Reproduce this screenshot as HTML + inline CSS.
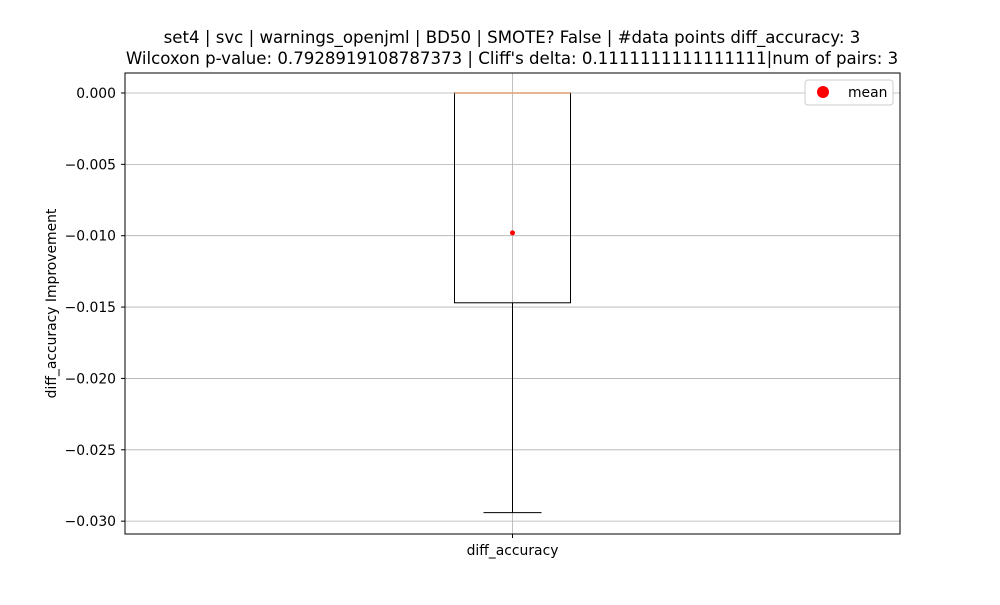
<!DOCTYPE html>
<html><head><meta charset="utf-8"><style>
body{margin:0;background:#fff;font-family:"Liberation Sans","DejaVu Sans",sans-serif}
svg text{font-family:"DejaVu Sans","Liberation Sans",sans-serif}
</style></head><body>
<svg id="c" width="1000" height="600"></svg>
<script>
const categories=["diff_accuracy"];
const q1Vals=[-0.0147];
const q3Vals=[0.0];
const medianVals=[0.0];
const whiskerLowVals=[-0.0294];
const whiskerHighVals=[0.0];
const meanVals=[-0.0098];
const yTicks=[0,-0.005,-0.01,-0.015,-0.02,-0.025,-0.03];
const yTickLabels=["0.000","\u22120.005","\u22120.010","\u22120.015","\u22120.020","\u22120.025","\u22120.030"];

const L=125,R=900,T=73,B=534,yMax=0.0014,yMin=-0.0309;
const y=v=>T+(yMax-v)/(yMax-yMin)*(B-T);
const x=i=>L+(R-L)*(i+0.5)/categories.length;
const s=document.getElementById('c');const NS="http://www.w3.org/2000/svg";
function el(t,a,txt){const e=document.createElementNS(NS,t);for(const k in a)e.setAttribute(k,a[k]);if(txt!=null)e.textContent=txt;s.appendChild(e);return e;}
let e;
e=el('text',{x:512,y:43,'text-anchor':'middle','font-size':16.6},"set4 | svc | warnings_openjml | BD50 | SMOTE? False | #data points diff_accuracy: 3");


e=el('text',{x:512,y:64,'text-anchor':'middle','font-size':16.6},"Wilcoxon p-value: 0.7928919108787373 | Cliff's delta: 0.1111111111111111|num of pairs: 3");


yTicks.forEach((v,i)=>{
 e=el('line',{x1:L,x2:R,y1:y(v),y2:y(v),stroke:'#b0b0b0','stroke-width':0.8});
 
 
 el('line',{x1:L-4,x2:L,y1:y(v),y2:y(v),stroke:'#000'});
 e=el('text',{x:L-9,y:y(v)+5,'text-anchor':'end','font-size':13.9},yTickLabels[i]);
 
 
});
categories.forEach((c,i)=>{
 const cx=x(i),bw=116,cw=58;
 e=el('line',{x1:cx,x2:cx,y1:T,y2:B,stroke:'#b0b0b0','stroke-width':0.8});
 
 
 el('line',{x1:cx,x2:cx,y1:B,y2:B+4,stroke:'#000'});
 e=el('text',{x:cx,y:555,'text-anchor':'middle','font-size':13.9},c);
 
 
 el('line',{x1:cx,x2:cx,y1:y(q1Vals[i]),y2:y(whiskerLowVals[i]),stroke:'#000'});
 el('line',{x1:cx,x2:cx,y1:y(q3Vals[i]),y2:y(whiskerHighVals[i]),stroke:'#000'});
 e=el('line',{x1:cx-cw/2,x2:cx+cw/2,y1:y(whiskerLowVals[i]),y2:y(whiskerLowVals[i]),stroke:'#000'});
 
 
 el('line',{x1:cx-cw/2,x2:cx+cw/2,y1:y(whiskerHighVals[i]),y2:y(whiskerHighVals[i]),stroke:'#000'});
 e=el('rect',{x:cx-bw/2,y:y(q3Vals[i]),width:bw,height:y(q1Vals[i])-y(q3Vals[i]),fill:'none',stroke:'#000'});
 
 
 e=el('line',{x1:cx-bw/2,x2:cx+bw/2,y1:y(medianVals[i]),y2:y(medianVals[i]),stroke:'#e0a070','stroke-width':1.5});
 
 
 e=el('circle',{cx:cx,cy:y(meanVals[i]),r:2.5,fill:'red'});
 
 
});
e=el('rect',{x:L,y:T,width:R-L,height:B-T,fill:'none',stroke:'#000'});


e=el('text',{x:0,y:0,'text-anchor':'middle','font-size':13.9,transform:`translate(56,${(T+B)/2}) rotate(-90)`},"diff_accuracy Improvement");


e=el('rect',{x:805,y:80,width:88,height:25,rx:3,fill:'#fff',stroke:'#ccc'});


el('circle',{cx:823,cy:92,r:6,fill:'red'});
e=el('text',{x:848,y:97,'font-size':13.9},"mean");


</script>
</body></html>
